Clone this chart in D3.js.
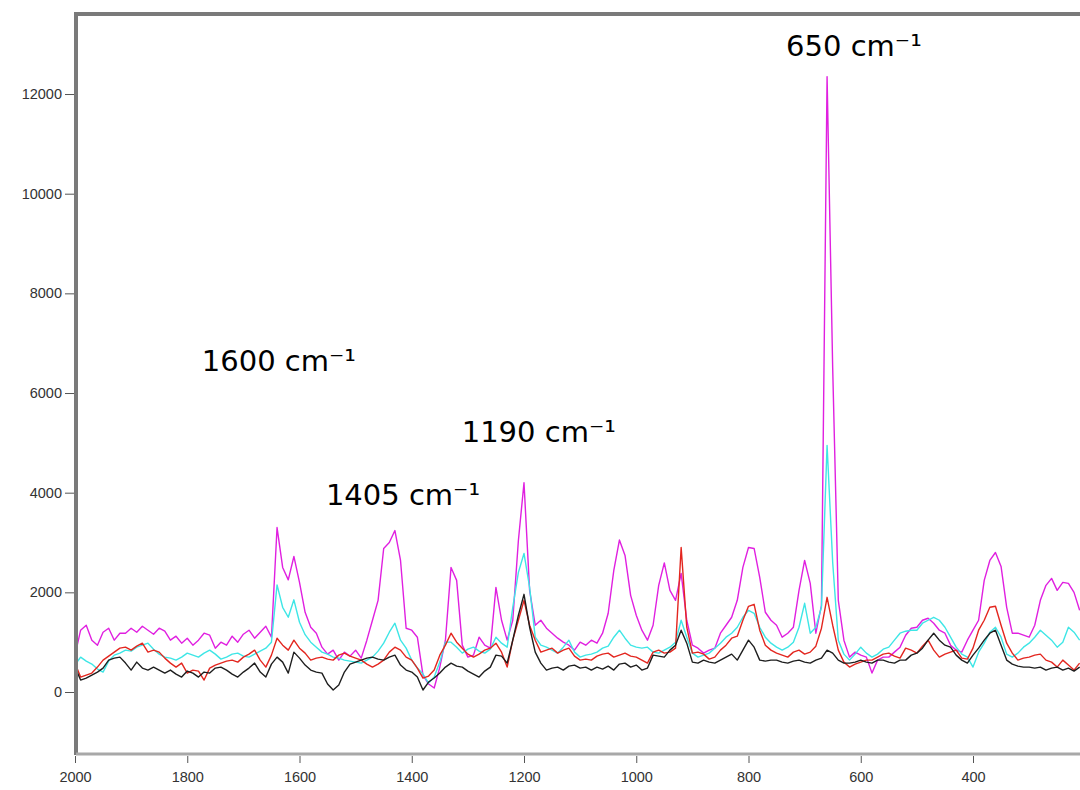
<!DOCTYPE html>
<meta charset="utf-8">
<style>
  body { margin: 0; background: #fff; }
  .axis text { font: 14.5px "Liberation Sans", Arial, sans-serif; fill: #333; }
  .axis line { stroke: #555; }
  .axis path { display: none; }
  .line { fill: none; stroke-width: 1.4; stroke-linejoin: round; }
  .note { font-family: "DejaVu Sans", Verdana, sans-serif; font-size: 29px; fill: #000; }
</style>
<body>
<script src="https://d3js.org/d3.v7.min.js"></script>
<script>

// Raman shift grid (cm-1), 2000 down to 210
var wavenumbers = d3.range(2000, 200, -10);

var magenta = [
  740,1240,1340,1040,940,1200,1280,1040,1180,1180,
  1280,1200,1320,1240,1160,1280,1220,1040,1120,980,
  1080,940,1040,1180,1140,880,1000,940,1120,1000,
  1160,1240,1080,1200,1320,1100,3300,2500,2250,2720,
  2200,1600,1300,1180,900,760,840,640,800,720,
  840,680,1040,1440,1840,2880,3000,3240,2640,1280,
  1240,1100,340,160,80,500,1040,2500,2240,940,
  700,740,1100,940,880,2100,1440,1040,1440,3040,
  4200,2040,1340,1440,1280,1180,1080,1000,940,840,
  1000,940,1040,980,1180,1580,2440,3050,2740,1940,
  1540,1240,1040,1340,2140,2590,2040,1840,2380,1440,
  940,880,780,840,880,1180,1340,1500,1840,2500,
  2900,2880,2300,1600,1440,1340,1100,1180,1300,2040,
  2640,2180,1180,1740,12350,6500,1840,1040,700,800,
  740,700,380,640,700,700,800,900,1140,1280,
  1300,1440,1480,1380,1240,1180,940,840,800,1040,
  1240,1440,2240,2640,2800,2520,1700,1180,1180,1140,
  1100,1340,1840,2140,2280,2040,2200,2180,2000,1640
];

var cyan = [
  540,700,620,560,460,400,620,740,780,840,
  820,900,940,980,860,760,700,680,640,700,
  780,740,700,780,840,760,660,700,760,780,
  720,700,760,820,880,1000,2150,1700,1500,1850,
  1400,1150,1000,900,800,760,700,680,640,620,
  600,580,640,700,820,980,1200,1380,1040,880,
  640,480,360,180,300,600,1000,1000,900,780,
  860,900,820,780,860,1100,980,900,1700,2400,
  2780,2100,1100,940,900,840,780,900,1040,800,
  700,740,760,800,880,920,1100,1240,1080,940,
  900,880,900,800,780,840,900,1000,1440,1100,
  780,700,740,780,880,980,1100,1180,1300,1500,
  1640,1580,1300,1100,980,900,840,900,1000,1300,
  1780,1180,1300,1700,4950,2600,1040,760,640,760,
  900,780,700,760,860,900,1040,1180,1220,1240,
  1240,1380,1440,1500,1440,1300,1100,900,760,700,
  500,800,980,1200,1300,1100,760,700,780,900,
  980,1100,1240,1140,1040,900,1000,1300,1200,1040
];

var red = [
  580,300,340,380,500,640,720,800,880,900,
  840,920,980,800,840,800,680,580,500,580,
  380,440,420,240,480,540,580,620,640,600,
  700,760,840,640,500,740,1080,940,840,1040,
  880,780,640,680,700,660,640,740,780,720,
  680,640,560,500,560,640,800,900,840,700,
  640,480,280,320,440,740,940,1180,1000,880,
  760,700,760,840,880,980,800,500,1040,1440,
  1840,1340,1040,800,840,880,780,840,880,720,
  640,660,640,720,760,780,700,740,780,720,
  700,640,580,800,840,780,800,880,2900,1300,
  780,800,760,660,700,840,940,1080,1120,1440,
  1720,1760,1240,940,840,780,740,700,800,840,
  760,800,920,1280,1900,1340,840,600,500,560,
  600,640,640,700,760,780,720,680,880,840,
  780,920,1040,840,700,760,800,840,680,660,
  880,1240,1440,1700,1720,1340,980,780,640,680,
  700,740,760,640,600,500,640,540,440,580
];

var black = [
  500,240,280,340,400,480,640,680,700,580,
  440,600,480,440,500,440,380,440,360,300,
  420,380,300,400,380,480,500,440,360,300,
  400,480,580,400,300,560,700,600,380,800,
  680,540,440,400,380,160,40,140,400,560,
  600,640,680,700,660,640,700,740,540,440,
  400,300,40,200,280,380,500,580,520,500,
  420,360,300,420,500,740,720,580,1040,1540,
  1960,1300,800,580,440,480,500,440,520,540,
  480,500,440,500,460,520,440,560,580,500,
  540,440,480,740,720,700,840,940,1240,980,
  600,580,640,600,580,640,700,760,640,840,
  1040,900,640,620,640,640,600,580,620,640,
  600,580,640,680,840,780,640,580,580,600,
  640,600,580,640,640,600,580,640,640,740,
  780,880,1040,1180,1040,940,900,740,640,580,
  740,880,1040,1180,1240,940,640,560,520,500,
  500,480,500,440,480,500,440,480,420,500
];

var series = [
  {name: "magenta", color: "#e020e0", values: magenta},
  {name: "cyan", color: "#3ee6e6", values: cyan},
  {name: "red", color: "#e3261f", values: red},
  {name: "black", color: "#1e1e1e", values: black}
];

var xTicks = [2000, 1800, 1600, 1400, 1200, 1000, 800, 600, 400];
var yTicks = [0, 2000, 4000, 6000, 8000, 10000, 12000];

var notes = [
  {text: "650 cm\u207B\u00B9", w: 733, v: 12760},
  {text: "1600 cm\u207B\u00B9", w: 1774, v: 6450},
  {text: "1190 cm\u207B\u00B9", w: 1311, v: 5010},
  {text: "1405 cm\u207B\u00B9", w: 1553, v: 3750}
];

var width = 1080, height = 790;
var plot = {left: 76, top: 14, right: 1080, bottom: 753};

var x = d3.scaleLinear().domain([2000, 200]).range([75, 75 + 1800 * 0.56125]);
var y = d3.scaleLinear().domain([-1224, 13626]).range([753, 13]);

var svg = d3.select("body").append("svg")
    .attr("width", width)
    .attr("height", height);

svg.append("clipPath").attr("id", "clip")
  .append("rect")
    .attr("x", plot.left + 2).attr("y", plot.top + 2)
    .attr("width", plot.right - plot.left).attr("height", plot.bottom - plot.top - 3);

var line = d3.line()
    .x(function(d) { return x(d[0]); })
    .y(function(d) { return y(d[1]); });

svg.append("g").attr("clip-path", "url(#clip)")
  .selectAll(".line")
  .data(series)
  .enter().append("path")
    .attr("class", "line")
    .attr("stroke", function(d) { return d.color; })
    .attr("d", function(d) {
      return line(d.values.map(function(v, i) { return [wavenumbers[i], v]; }));
    });

// frame
svg.append("line")
    .attr("x1", plot.left).attr("x2", plot.left)
    .attr("y1", plot.top - 2).attr("y2", plot.bottom + 2)
    .attr("stroke", "#7a7a7a").attr("stroke-width", 4);
svg.append("line")
    .attr("x1", plot.left - 2).attr("x2", width)
    .attr("y1", plot.top).attr("y2", plot.top)
    .attr("stroke", "#7a7a7a").attr("stroke-width", 4);
svg.append("line")
    .attr("x1", plot.left).attr("x2", width)
    .attr("y1", plot.bottom + 1).attr("y2", plot.bottom + 1)
    .attr("stroke", "#a8a8a8").attr("stroke-width", 3);

svg.append("g")
    .attr("class", "y axis")
    .attr("transform", "translate(74,0)")
    .call(d3.axisLeft(y).tickValues(yTicks).tickSize(9).tickPadding(3).tickFormat(d3.format("d")));

svg.append("g")
    .attr("class", "x axis")
    .attr("transform", "translate(0,756)")
    .call(d3.axisBottom(x).tickValues(xTicks).tickSize(7).tickPadding(9).tickFormat(d3.format("d")));

svg.selectAll(".note")
  .data(notes)
  .enter().append("text")
    .attr("class", "note")
    .attr("x", function(d) { return x(d.w); })
    .attr("y", function(d) { return y(d.v); })
    .text(function(d) { return d.text; });

</script>
